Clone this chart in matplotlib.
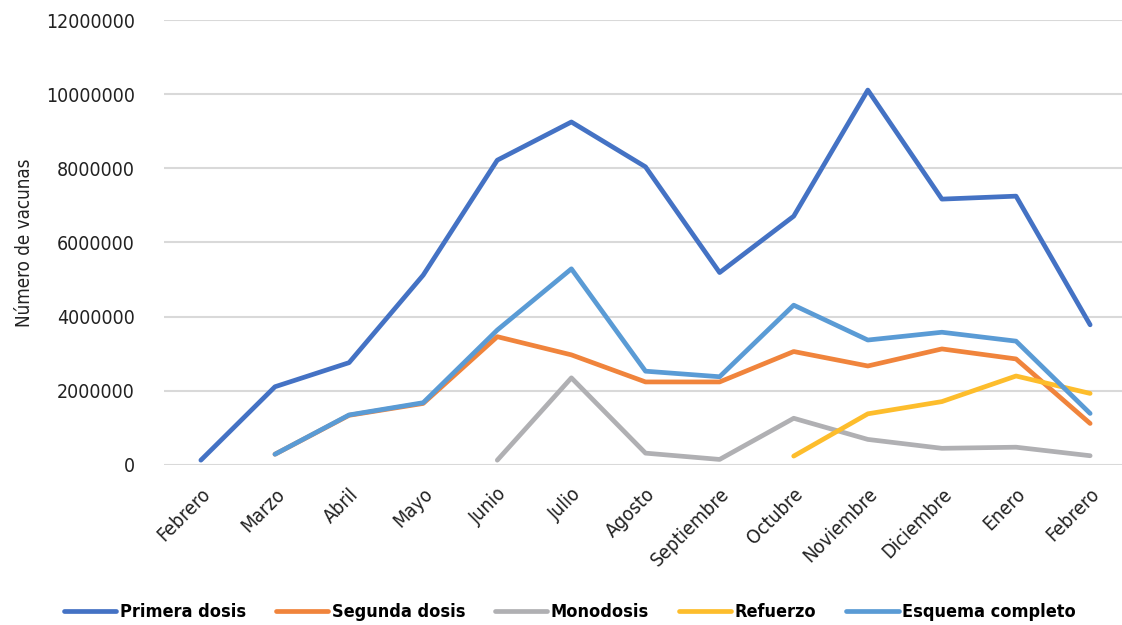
import numpy as np
import matplotlib
matplotlib.use("Agg")
import matplotlib.pyplot as plt
from matplotlib.transforms import ScaledTranslation

plt.rcParams['font.family'] = ['DejaVu Sans']
plt.rcParams['font.stretch'] = 'condensed'

meses = ["Febrero", "Marzo", "Abril", "Mayo", "Junio", "Julio", "Agosto",
         "Septiembre", "Octubre", "Noviembre", "Diciembre", "Enero", "Febrero"]

nan = np.nan
primera = [130000, 2110000, 2760000, 5120000, 8220000, 9250000, 8040000,
           5190000, 6710000, 10110000, 7170000, 7250000, 3780000]
segunda = [nan, 290000, 1340000, 1660000, 3460000, 2970000, 2240000,
           2240000, 3060000, 2670000, 3130000, 2860000, 1120000]
monodosis = [nan, nan, nan, nan, 130000, 2350000, 320000,
             150000, 1260000, 690000, 450000, 480000, 250000]
refuerzo = [nan, nan, nan, nan, nan, nan, nan,
            nan, 240000, 1380000, 1710000, 2400000, 1930000]
esquema = [nan, 290000, 1350000, 1680000, 3640000, 5290000, 2530000,
           2380000, 4310000, 3370000, 3580000, 3340000, 1390000]

series = [("Primera dosis", primera, "#4472C4"),
          ("Segunda dosis", segunda, "#F0843C"),
          ("Monodosis", monodosis, "#B0B0B3"),
          ("Refuerzo", refuerzo, "#FDBD2C"),
          ("Esquema completo", esquema, "#5A9BD5")]

fig = plt.figure(figsize=(11.22, 6.25), dpi=100)
ax = fig.add_axes([0.146, 0.256, 0.854, 0.712])

x = np.arange(len(meses))
for nombre, vals, color in series:
    ax.plot(x, vals, color=color, lw=3.4, label=nombre,
            solid_capstyle='round', solid_joinstyle='round')

ax.set_xlim(-0.5, 12.43)
ax.set_ylim(0, 12000000)
ax.set_yticks(np.arange(0, 12000001, 2000000))
ax.set_yticklabels([str(v) for v in range(0, 12000001, 2000000)], fontsize=14, color="#222222")
ax.set_xticks(x)
ax.set_xticklabels(meses, rotation=45, ha='right', rotation_mode='anchor',
                   fontsize=14, color="#222222")
# mover un poco las etiquetas rotadas hacia la izquierda
shift = ScaledTranslation(-10 / 100, 0, fig.dpi_scale_trans)
for lbl in ax.get_xticklabels():
    lbl.set_transform(lbl.get_transform() + shift)
ax.tick_params(axis='both', length=0)
ax.tick_params(axis='x', pad=14)
ax.tick_params(axis='y', pad=21)
ax.grid(axis='y', color="#D9D9D9", lw=1.5)
ax.set_axisbelow(True)
for s in ax.spines.values():
    s.set_visible(False)

ax.set_ylabel("Número de vacunas", fontsize=13.5, color="#222222")
ax.yaxis.set_label_coords(-0.135, 0.5)

fig.legend(loc='center', bbox_to_anchor=(0.508, 0.021), ncol=5, frameon=False,
           prop={'size': 13, 'weight': 'bold', 'stretch': 'condensed'}, handlelength=2.9,
           handletextpad=0.2, columnspacing=1.65)

fig.savefig("out.png", dpi=100)
